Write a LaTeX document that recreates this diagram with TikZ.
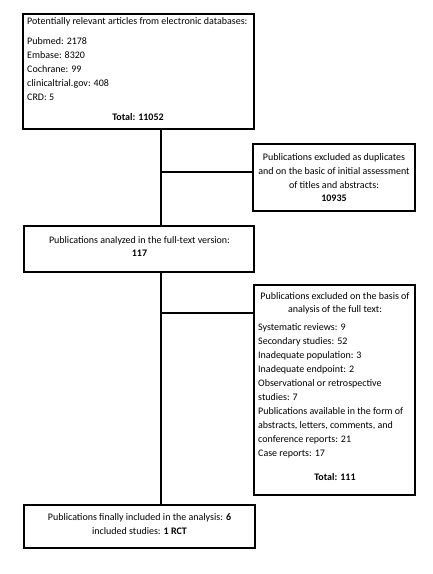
\documentclass[tikz,border=0pt]{standalone}
\usepackage{fontspec}
\setmainfont{Carlito}
\begin{document}
\begin{tikzpicture}[x=1pt,y=-1pt,
  box/.style={draw, line width=1.8pt, inner sep=0pt},
  conn/.style={draw, line width=1.2pt},
  txt/.style={inner sep=0pt, font=\fontsize{10pt}{12pt}\selectfont, text height=7pt, text depth=2pt},
  lt/.style={txt, anchor=west},
  ct/.style={txt, anchor=center}]
\useasboundingbox[fill=white] (0,0) rectangle (433,574);
% boxes
\node[box, minimum width=231pt, minimum height=115pt] (b1) at (138.5,71.5) {};
\node[box, minimum width=162pt, minimum height=67pt] (b2) at (334,177.5) {};
\node[box, minimum width=230pt, minimum height=46pt] (b3) at (139,249) {};
\node[box, minimum width=161pt, minimum height=210pt] (b4) at (334.5,390) {};
\node[box, minimum width=231pt, minimum height=43pt] (b5) at (139.5,526.5) {};
% box 1 text
\node[lt] (t1a) at (27,22) {Potentially relevant articles from electronic databases:};
\node[lt] (t1b) at (27,42) {Pubmed: 2178};
\node[lt] (t1c) at (27,56) {Embase: 8320};
\node[lt] (t1d) at (27,70) {Cochrane: 99};
\node[lt] (t1e) at (27,84) {clinicaltrial.gov: 408};
\node[lt] (t1f) at (27,98) {CRD: 5};
\node[ct] (t1g) at (138,118) {\bfseries Total: 11052};
% box 2 text
\node[ct] (t2a) at (334,158) {Publications excluded as duplicates};
\node[ct] (t2b) at (334,172) {and on the basic of initial assessment};
\node[ct] (t2c) at (334,186) {of titles and abstracts:};
\node[ct] (t2d) at (334,199) {\bfseries 10935};
% box 3 text
\node[ct] (t3a) at (139.5,241) {Publications analyzed in the full-text version:};
\node[ct] (t3b) at (139.5,254) {\bfseries 117};
% box 4 text
\node[ct] (t4a) at (335,297) {Publications excluded on the basis of};
\node[ct] (t4b) at (335,310) {analysis of the full text:};
\node[lt] (t4c) at (258,328) {Systematic reviews: 9};
\node[lt] (t4d) at (258,342) {Secondary studies: 52};
\node[lt] (t4e) at (258,356) {Inadequate population: 3};
\node[lt] (t4f) at (258,370) {Inadequate endpoint: 2};
\node[lt] (t4g) at (258,384) {Observational or retrospective};
\node[lt] (t4h) at (258,398) {studies: 7};
\node[lt] (t4i) at (258,412) {Publications available in the form of};
\node[lt] (t4j) at (258,426) {abstracts, letters, comments, and};
\node[lt] (t4k) at (258,440) {conference reports: 21};
\node[lt] (t4l) at (258,454) {Case reports: 17};
\node[ct] (t4m) at (335,478) {\bfseries Total: 111};
% box 5 text
\node[ct] (t5a) at (139.5,518) {Publications finally included in the analysis: \textbf{6}};
\node[ct] (t5b) at (139.5,532) {included studies: \textbf{1 RCT}};
% connectors
\coordinate (j1) at (161,172);
\coordinate (j2) at (161,313);
\draw[conn] (b1.south -| j1) -- (b3.north -| j1);
\draw[conn] (b3.south -| j1) -- (b5.north -| j1);
\draw[conn] (j1) -- (j1 -| b2.west);
\draw[conn] (j2) -- (j2 -| b4.west);
\end{tikzpicture}
\end{document}
